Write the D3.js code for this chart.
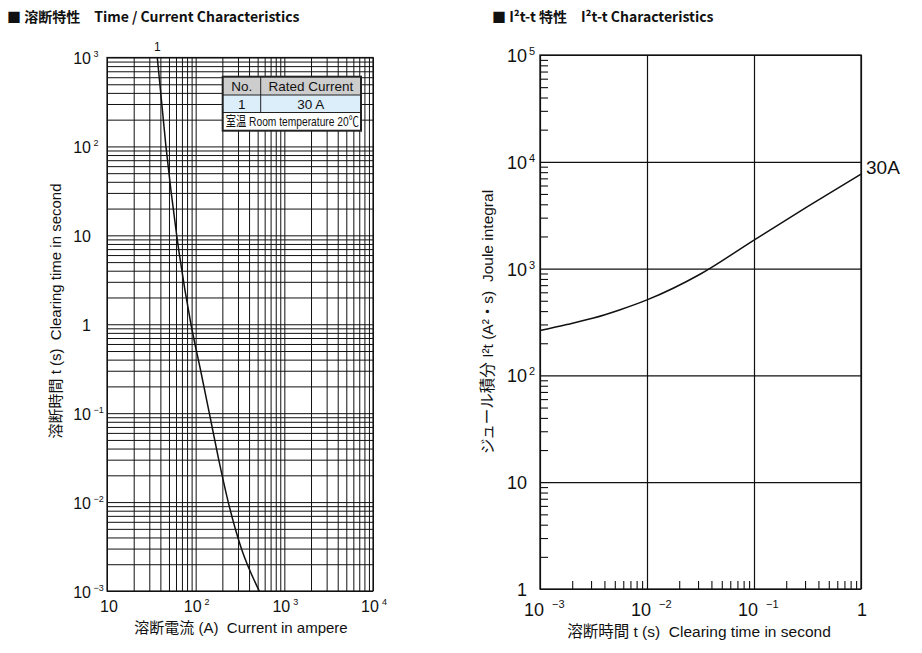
<!DOCTYPE html>
<html>
<head>
<meta charset="utf-8">
<script src="https://cdn.jsdelivr.net/npm/d3@7"></script>
<style>
body{margin:0;background:#fff;}
text{font-family:"Liberation Sans","Noto Sans CJK JP",sans-serif;fill:#111;white-space:pre;}
.ttl{font-family:"Noto Sans CJK JP",sans-serif;font-weight:bold;}
</style>
</head>
<body>
<div class="container"></div>
<script>
var W = 922, H = 653;

// time / current curve of fuse No.1 (30 A)
var tcCurrent = [36.9, 46.2, 61.1, 88.5, 112.7, 142.6, 180, 233, 322, 522];
var tcTime = [1000, 100, 10, 1, 0.316, 0.1, 0.0316, 0.01, 0.00316, 0.001];

// I2t - t curve, 30 A
var jtTime = [0.001, 0.00178, 0.00316, 0.00562, 0.01, 0.0316, 0.1, 0.316, 1];
var jtI2t = [263, 299, 344, 412, 509, 890, 1850, 3800, 7680];

// tick labels : value, base, exponent
var tcXLabels = [[10, "10", ""], [100, "10", "2"], [1000, "10", "3"], [10000, "10", "4"]];
var tcYLabels = [[1000, "10", "3"], [100, "10", "2"], [10, "10", ""], [1, "1", ""],
                 [0.1, "10", "−1"], [0.01, "10", "−2"], [0.001, "10", "−3"]];
var jtXLabels = [[0.001, "10", "−3"], [0.01, "10", "−2"], [0.1, "10", "−1"], [1, "1", ""]];
var jtYLabels = [[1e5, "10", "5"], [1e4, "10", "4"], [1e3, "10", "3"], [100, "10", "2"], [10, "10", ""], [1, "1", ""]];
var jtDecadesX = [0.001, 0.01, 0.1, 1];
var jtDecadesY = [1, 10, 100, 1000, 1e4, 1e5];

var tableHead = ["No.", "Rated Current"];
var tableRow = ["1", "30 A"];
var tableNote = "室温 Room temperature 20℃";

var translate = function(x, y){
	return "translate(" + x + "," + y + ")";
}

var svg = d3.select(".container").append("svg").attr("width", W).attr("height", H);

// tick lines from an axis, labels and domain dropped
var ticksOnly = function(g, axis, tr, width){
	var a = g.append("g").attr("transform", tr).call(axis);
	a.select(".domain").remove();
	a.selectAll("text").remove();
	a.selectAll("line").attr("stroke", "#111").attr("stroke-width", width);
	return a;
}

var supLabel = function(g, x, y, base, exp, o){
	var t = g.append("text").attr("x", x).attr("y", y)
		.attr("font-size", o.size).attr("text-anchor", o.anchor).text(base);
	if(!exp) return;
	var w = t.node().getComputedTextLength();
	var x0 = o.anchor == "end" ? x : (o.anchor == "middle" ? x + w / 2 : x + w);
	g.append("text").attr("x", x0 + o.gap).attr("y", y - o.rise)
		.attr("font-size", o.supSize).text(exp);
}

// ---------- left : time / current ----------
var L = {x0: 107, x1: 373, y0: 57.5, y1: 591};
var lx = d3.scaleLog().domain([10, 1e4]).range([L.x0, L.x1]);
var ly = d3.scaleLog().domain([1e-3, 1e3]).range([L.y1, L.y0]);
var gl = svg.append("g");

svg.append("text").attr("class", "ttl").attr("x", 7).attr("y", 22).attr("font-size", 14)
	.text("■ 溶断特性　Time / Current Characteristics");

ticksOnly(gl, d3.axisBottom(lx).tickValues(lx.ticks()).tickSize(-(L.y1 - L.y0)).tickFormat(""),
	translate(0, L.y1), 1);
ticksOnly(gl, d3.axisLeft(ly).tickValues(ly.ticks()).tickSize(-(L.x1 - L.x0)).tickFormat(""),
	translate(L.x0, 0), 1);
gl.append("rect").attr("x", L.x0).attr("y", L.y0).attr("width", L.x1 - L.x0).attr("height", L.y1 - L.y0)
	.attr("fill", "none").attr("stroke", "#111").attr("stroke-width", 1.2);

var tcLine = d3.line()
	.x(function(d, i){ return lx(tcCurrent[i]); })
	.y(function(d, i){ return ly(tcTime[i]); })
	.curve(d3.curveMonotoneX);
gl.append("path").attr("d", tcLine(tcCurrent)).attr("fill", "none")
	.attr("stroke", "#111").attr("stroke-width", 1.5);
gl.append("text").attr("x", lx(tcCurrent[0])).attr("y", 51).attr("font-size", 12)
	.attr("text-anchor", "middle").text("1");

tcYLabels.forEach(function(d){
	supLabel(gl, 91, ly(d[0]) + 6.5, d[1], d[2], {size: 16, anchor: "end", gap: 2.5, rise: 7, supSize: 9});
});
tcXLabels.forEach(function(d){
	var off = d[2] ? -3 : 2;
	supLabel(gl, lx(d[0]) + off, 612, d[1], d[2], {size: 16, anchor: "middle", gap: 3, rise: 7, supSize: 9});
});
gl.append("text").attr("x", 241).attr("y", 633).attr("font-size", 15).attr("text-anchor", "middle")
	.text("溶断電流 (A)  Current in ampere");
gl.append("text").attr("transform", translate(61, 311) + " rotate(-90)").attr("font-size", 15)
	.attr("text-anchor", "middle").text("溶断時間 t (s)  Clearing time in second");

// rated current table
var T = {x0: 222.7, x1: 361, c: 260.7, r0: 76.7, r1: 95, r2: 112.5, r3: 130.7};
var gt = gl.append("g");
gt.append("rect").attr("x", T.x0).attr("y", T.r0).attr("width", T.x1 - T.x0).attr("height", T.r1 - T.r0).attr("fill", "#cdcdcd");
gt.append("rect").attr("x", T.x0).attr("y", T.r1).attr("width", T.x1 - T.x0).attr("height", T.r2 - T.r1).attr("fill", "#dbeefa");
gt.append("rect").attr("x", T.x0).attr("y", T.r2).attr("width", T.x1 - T.x0).attr("height", T.r3 - T.r2).attr("fill", "#fff");
[T.r1, T.r2].forEach(function(r){
	gt.append("line").attr("x1", T.x0).attr("x2", T.x1).attr("y1", r).attr("y2", r).attr("stroke", "#222").attr("stroke-width", 1);
});
gt.append("line").attr("x1", T.c).attr("x2", T.c).attr("y1", T.r0).attr("y2", T.r2).attr("stroke", "#222").attr("stroke-width", 1);
gt.append("rect").attr("x", T.x0).attr("y", T.r0).attr("width", T.x1 - T.x0).attr("height", T.r3 - T.r0)
	.attr("fill", "none").attr("stroke", "#222").attr("stroke-width", 2);
var cx = [(T.x0 + T.c) / 2, (T.c + T.x1) / 2];
tableHead.forEach(function(s, i){
	gt.append("text").attr("x", cx[i]).attr("y", T.r1 - 4).attr("font-size", 13.5).attr("text-anchor", "middle").text(s);
});
tableRow.forEach(function(s, i){
	gt.append("text").attr("x", cx[i]).attr("y", T.r2 - 4).attr("font-size", 13.5).attr("text-anchor", "middle").text(s);
});
gt.append("text").attr("x", T.x0 + 3).attr("y", T.r3 - 4.5).attr("font-size", 13.5)
	.attr("textLength", T.x1 - T.x0 - 5).attr("lengthAdjust", "spacingAndGlyphs").text(tableNote);

// ---------- right : I2t - t ----------
var R = {x0: 540, x1: 861, y0: 55, y1: 589};
var rx = d3.scaleLog().domain([1e-3, 1]).range([R.x0, R.x1]);
var ry = d3.scaleLog().domain([1, 1e5]).range([R.y1, R.y0]);
var gr = svg.append("g");

svg.append("text").attr("class", "ttl").attr("x", 492).attr("y", 22).attr("font-size", 14)
	.text("■ I²t-t 特性　I²t-t Characteristics");

var minorX = rx.ticks().filter(function(v){ return jtDecadesX.indexOf(v) < 0; });
var minorY = ry.ticks().filter(function(v){ return jtDecadesY.indexOf(v) < 0; });
ticksOnly(gr, d3.axisBottom(rx).tickValues(minorX).tickSize(-8).tickFormat(""), translate(0, R.y1), 1.1);
ticksOnly(gr, d3.axisLeft(ry).tickValues(minorY).tickSize(-8).tickFormat(""), translate(R.x0, 0), 1.1);
ticksOnly(gr, d3.axisBottom(rx).tickValues(jtDecadesX).tickSize(-(R.y1 - R.y0)).tickFormat(""), translate(0, R.y1), 1.2);
ticksOnly(gr, d3.axisLeft(ry).tickValues(jtDecadesY).tickSize(-(R.x1 - R.x0)).tickFormat(""), translate(R.x0, 0), 1.2);
gr.append("rect").attr("x", R.x0).attr("y", R.y0).attr("width", R.x1 - R.x0).attr("height", R.y1 - R.y0)
	.attr("fill", "none").attr("stroke", "#111").attr("stroke-width", 1.3);

var jtLine = d3.line()
	.x(function(d, i){ return rx(jtTime[i]); })
	.y(function(d, i){ return ry(jtI2t[i]); })
	.curve(d3.curveMonotoneX);
gr.append("path").attr("d", jtLine(jtTime)).attr("fill", "none")
	.attr("stroke", "#111").attr("stroke-width", 1.5);
gr.append("text").attr("x", 866).attr("y", 174).attr("font-size", 19).text("30A");

jtYLabels.forEach(function(d){
	supLabel(gr, 527, ry(d[0]) + 7, d[1], d[2], {size: 18, anchor: "end", gap: 2, rise: 7, supSize: 11});
});
jtXLabels.forEach(function(d){
	var off = d[2] ? -6 : 1;
	supLabel(gr, rx(d[0]) + off, 616, d[1], d[2], {size: 18, anchor: "middle", gap: 8, rise: 8, supSize: 11});
});
gr.append("text").attr("x", 699).attr("y", 637).attr("font-size", 15.5).attr("text-anchor", "middle")
	.text("溶断時間 t (s)  Clearing time in second");
gr.append("text").attr("transform", translate(493, 322) + " rotate(-90)").attr("font-size", 15.5)
	.attr("text-anchor", "middle").text("ジュール積分 I²t (A²・s)  Joule integral");
</script>
</body>
</html>
